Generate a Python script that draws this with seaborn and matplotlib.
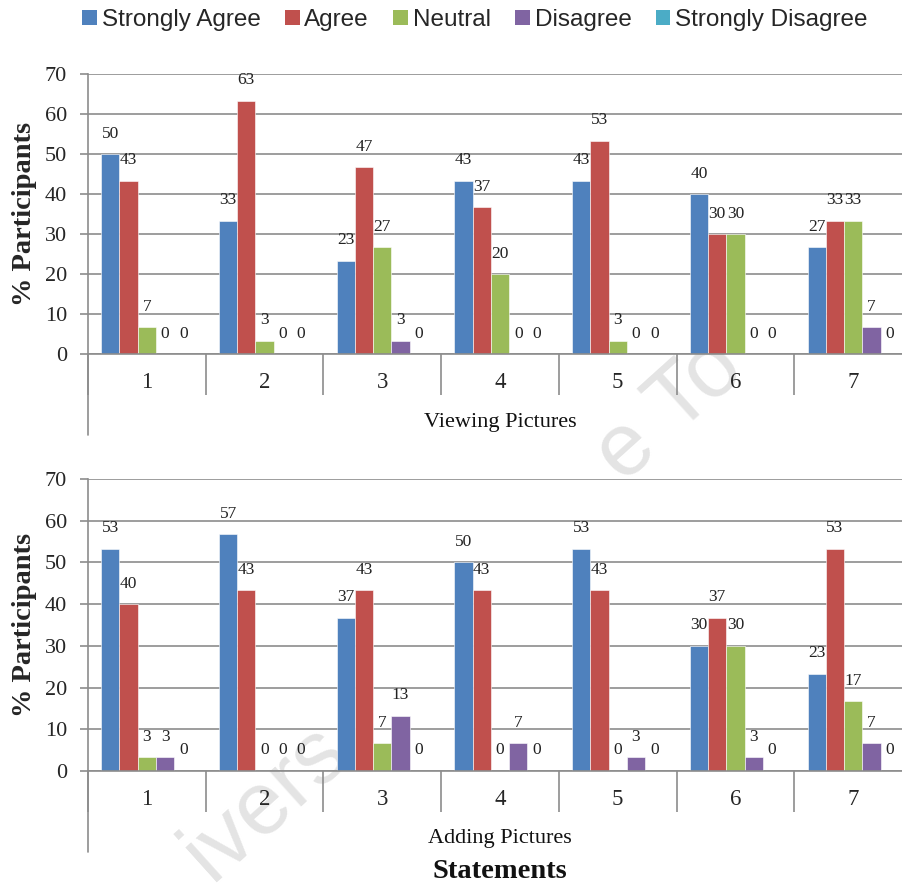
import numpy as np
import pandas as pd
import seaborn as sns
import matplotlib.pyplot as plt
from matplotlib.lines import Line2D
from matplotlib.patches import Patch

# ---- data -------------------------------------------------------------
responses = ["Strongly Agree", "Agree", "Neutral", "Disagree", "Strongly Disagree"]
statements = ["1", "2", "3", "4", "5", "6", "7"]
yticks = [0, 10, 20, 30, 40, 50, 60, 70]

viewing_strongly_agree = [50.0, 33.3, 23.3, 43.3, 43.3, 40.0, 26.7]
viewing_agree = [43.3, 63.3, 46.7, 36.7, 53.3, 30.0, 33.3]
viewing_neutral = [6.7, 3.3, 26.7, 20.0, 3.3, 30.0, 33.3]
viewing_disagree = [0.0, 0.0, 3.3, 0.0, 0.0, 0.0, 6.7]
viewing_strongly_disagree = [0.0, 0.0, 0.0, 0.0, 0.0, 0.0, 0.0]

adding_strongly_agree = [53.3, 56.7, 36.7, 50.0, 53.3, 30.0, 23.3]
adding_agree = [40.0, 43.3, 43.3, 43.3, 43.3, 36.7, 53.3]
adding_neutral = [3.3, 0.0, 6.7, 0.0, 0.0, 30.0, 16.7]
adding_disagree = [3.3, 0.0, 13.3, 6.7, 3.3, 3.3, 6.7]
adding_strongly_disagree = [0.0, 0.0, 0.0, 0.0, 0.0, 0.0, 0.0]

palette = ["#4F81BD", "#C0504D", "#9BBB59", "#8064A2", "#4BACC6"]
grid_grey = "#8C8C8C"


def long_table(series):
    rows = []
    for resp, vals in zip(responses, series):
        for st, v in zip(statements, vals):
            rows.append({"Statement": st, "Response": resp, "Percent": v})
    return pd.DataFrame(rows)


viewing = long_table([viewing_strongly_agree, viewing_agree, viewing_neutral,
                      viewing_disagree, viewing_strongly_disagree])
adding = long_table([adding_strongly_agree, adding_agree, adding_neutral,
                     adding_disagree, adding_strongly_disagree])

# ---- figure -----------------------------------------------------------
sns.set_theme(style="white")
plt.rcParams["font.family"] = ["Liberation Serif", "DejaVu Serif"]

W, H = 903, 886
fig = plt.figure(figsize=(W / 100, H / 100), dpi=100)
fig.patch.set_facecolor("white")


def px_rect(left, top, right, bottom):
    return [left / W, 1 - bottom / H, (right - left) / W, (bottom - top) / H]


# faint watermark pieces behind the charts
wm = dict(rotation=42, fontsize=64, color="#E4E4E4", ha="center",
          va="center", family=["Liberation Sans", "DejaVu Sans"], zorder=-5)
fig.text(266 / W, 1 - 802 / H, "ivers", **wm)
fig.text(670 / W, 1 - 412 / H, "e To", **wm)

panels = [
    (viewing, px_rect(88, 74, 912, 354), "Viewing Pictures", 423, 435),
    (adding, px_rect(88, 479, 912, 771), "Adding Pictures", 838, 852),
]

for df, rect, group_name, name_y, spine_bottom in panels:
    ax = fig.add_axes(rect)
    ax.set_facecolor("none")
    sns.barplot(data=df, x="Statement", y="Percent", hue="Response",
                hue_order=responses, order=statements, palette=palette,
                saturation=1, width=0.775, errorbar=None, legend=False,
                edgecolor="white", linewidth=0.4, ax=ax)
    for cont in ax.containers:
        ax.bar_label(cont, fmt="%.0f", padding=9, fontsize=12.5,
                     color="#222222")

    ax.set_ylim(0, 70)
    ax.set_yticks(yticks)
    ax.set_xlim(-0.5, len(statements) - 0.5)
    ax.yaxis.grid(True, color=grid_grey, linewidth=1.2)
    ax.set_axisbelow(True)
    for side in ("top", "right"):
        ax.spines[side].set_visible(False)
    for side in ("left", "bottom"):
        ax.spines[side].set_color(grid_grey)
        ax.spines[side].set_linewidth(1.2)

    ax.tick_params(axis="y", direction="out", length=6, width=1.2,
                   color=grid_grey, labelsize=16, pad=9, left=True)
    ax.tick_params(axis="x", which="major", length=0, labelsize=16.5, pad=13)
    ax.set_xticks(np.arange(-0.5, len(statements), 1), minor=True)
    ax.tick_params(axis="x", which="minor", direction="out", length=29.5,
                   width=1.2, color=grid_grey, bottom=True)
    ax.set_xlabel("")
    ax.set_ylabel("% Participants", fontsize=20.5, fontweight="bold",
                  labelpad=6)

    # left spine carried down past the category row
    top_px = H * (1 - rect[1] - rect[3])
    zero_px = H * (1 - rect[1])
    ax.add_line(Line2D([0, 0], [0, -(spine_bottom - zero_px) / (zero_px - top_px)],
                       transform=ax.transAxes, color=grid_grey, linewidth=1.2,
                       clip_on=False))

    fig.text(500 / W, 1 - name_y / H, group_name, ha="center", va="center",
             fontsize=16, color="#111111")

fig.text(500 / W, 1 - 872 / H, "Statements", ha="center", va="center",
         fontsize=20.5, fontweight="bold", color="#111111")

handles = [Patch(facecolor=c, edgecolor="none") for c in palette]
fig.legend(handles, responses, loc="center", bbox_to_anchor=(475 / W, 1 - 20 / H),
           ncol=5, frameon=False, handlelength=0.6, handleheight=0.6,
           handletextpad=0.2, columnspacing=1.0,
           prop={"family": ["Liberation Sans Narrow", "Liberation Sans"], "size": 17.5})

fig.savefig("out.png", dpi=100, facecolor="white")
